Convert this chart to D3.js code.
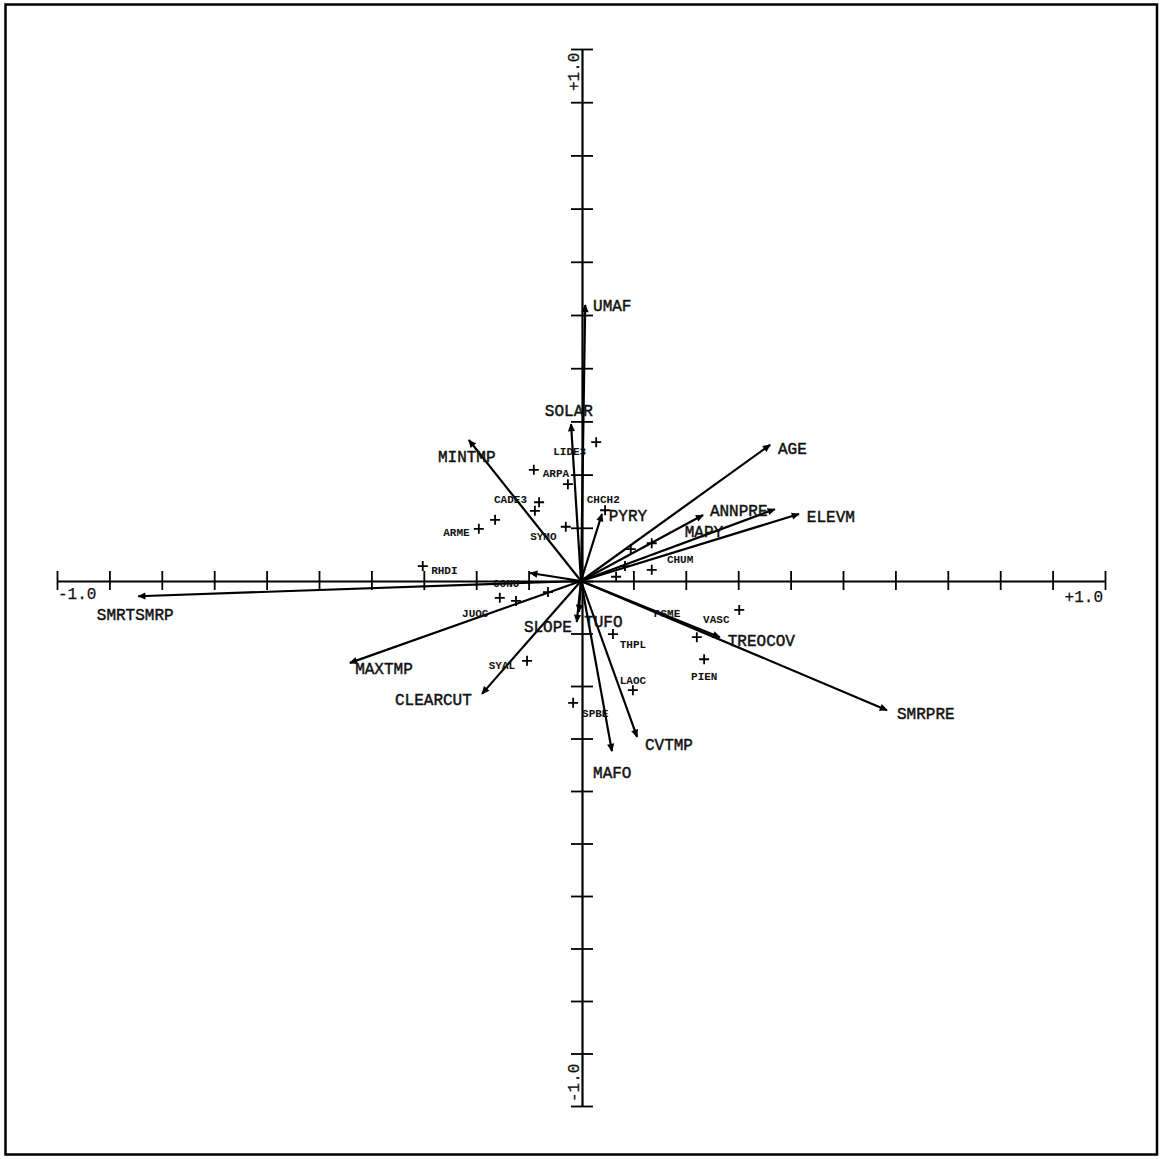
<!DOCTYPE html>
<html>
<head>
<meta charset="utf-8">
<script src="https://cdn.jsdelivr.net/npm/d3@7"></script>
<style>
  html, body { margin: 0; padding: 0; background: #fff; }
  svg { display: block; }
  .env { font-family: "Liberation Mono", "Courier New", monospace; font-size: 16px; fill: #111; stroke: #111; stroke-width: 0.45px; }
  .spp { font-family: "Liberation Mono", "Courier New", monospace; font-size: 11px; font-weight: bold; fill: #111; }
  .tick { font-family: "Liberation Mono", "Courier New", monospace; font-size: 16px; fill: #111; stroke: #111; stroke-width: 0.25px; }
</style>
</head>
<body>
<svg id="chart" width="1162" height="1159"></svg>
<script>
// Environmental variables (biplot arrows): name, axis-1 score, axis-2 score
const envNames = ["UMAF", "SOLAR", "MINTMP", "PYRY", "AGE", "ANNPRE", "MAPY", "ELEVM",
                  "TREOCOV", "SMRPRE", "CVTMP", "MAFO", "TUFO", "SLOPE", "CLEARCUT",
                  "MAXTMP", "SMRTSMRP", ""];
const envX = [0.008, -0.019, -0.214, 0.040, 0.361, 0.233, 0.370, 0.416,
              0.265, 0.584, 0.107, 0.059, -0.004, -0.008, -0.189,
              -0.441, -0.845, -0.097];
const envY = [0.519, 0.295, 0.265, 0.126, 0.256, 0.124, 0.135, 0.126,
              -0.107, -0.246, -0.297, -0.324, -0.059, -0.078, -0.215,
              -0.156, -0.029, 0.015];
// where each variable's name is written (axis units)
const envLabelX = [0.023, -0.069, -0.273, 0.053, 0.376, 0.246, 0.198, 0.431,
                   0.280, 0.603, 0.122, 0.023, 0.006, -0.109, -0.355,
                   -0.431, -0.924, 0];
const envLabelY = [0.508, 0.310, 0.224, 0.113, 0.239, 0.122, 0.082, 0.111,
                   -0.124, -0.263, -0.322, -0.375, -0.088, -0.097, -0.236,
                   -0.177, -0.074, 0];

// Species scores
const sppNames = ["LIDE3", "ARPA", "", "CADE3", "", "ARME", "", "SYMO", "CHCH2", "RHDI",
                  "JUOC", "CONU", "", "SYAL", "SPBE", "LAOC", "THPL", "PIEN", "VASC",
                  "PSME", "CHUM", "", "", "", ""];
const sppX = [0.029, -0.090, -0.025, -0.080, -0.088, -0.195, -0.164, -0.029, 0.046, -0.302,
              -0.155, -0.124, -0.063, -0.103, -0.015, 0.099, 0.061, 0.235, 0.302,
              0.221, 0.135, 0.095, 0.135, 0.067, 0.084];
const sppY = [0.261, 0.209, 0.182, 0.148, 0.132, 0.098, 0.115, 0.102, 0.133, 0.028,
              -0.032, -0.038, -0.021, -0.152, -0.232, -0.208, -0.101, -0.149, -0.055,
              -0.107, 0.021, 0.060, 0.071, 0.008, 0.028];
const sppLabelX = [-0.053, -0.073, 0, -0.166, 0, -0.263, 0, -0.097, 0.011, -0.286,
                   -0.227, -0.168, 0, -0.176, 0.002, 0.074, 0.074, 0.210, 0.233,
                   0.139, 0.164, 0, 0, 0, 0];
const sppLabelY = [0.237, 0.195, 0, 0.147, 0, 0.085, 0, 0.077, 0.147, 0.013,
                   -0.069, -0.011, 0, -0.168, -0.259, -0.196, -0.128, -0.189, -0.080,
                   -0.069, 0.034, 0, 0, 0, 0];

// Axis ticks every 0.1 from -1 to +1
const tickValues = d3.range(-10, 11).map(i => i / 10);
const axisEndLabels = ["-1.0", "+1.0"];

const svg = d3.select("#chart");

const x = d3.scaleLinear().domain([-1, 0, 1]).range([57, 581, 1105]);
const y = d3.scaleLinear().domain([-1, 0, 1]).range([1106, 581, 49]);

// frame
svg.append("rect")
  .attr("x", 5.5).attr("y", 4.5).attr("width", 1151.5).attr("height", 1150)
  .attr("fill", "none").attr("stroke", "#000").attr("stroke-width", 2.5);

// arrowhead marker
svg.append("defs").append("marker")
  .attr("id", "head")
  .attr("viewBox", "0 -5 10 10")
  .attr("refX", 9).attr("refY", 0)
  .attr("markerUnits", "userSpaceOnUse")
  .attr("markerWidth", 10).attr("markerHeight", 8)
  .attr("orient", "auto")
  .append("path").attr("d", "M0,-4.5L10,0L0,4.5Z").attr("fill", "#000");

// horizontal axis
const hAxis = svg.append("g").attr("transform", `translate(0,${y(0)})`)
  .call(d3.axisBottom(x).tickValues(tickValues).tickSizeInner(10).tickSizeOuter(0).tickFormat(""));
hAxis.select(".domain").attr("stroke-width", 2.2);
hAxis.selectAll(".tick line").attr("y1", -10).attr("y2", 9).attr("stroke-width", 1.8);

// vertical axis
const vAxis = svg.append("g").attr("transform", `translate(${x(0) + 1},0)`)
  .call(d3.axisLeft(y).tickValues(tickValues).tickSizeInner(10).tickSizeOuter(0).tickFormat(""));
vAxis.select(".domain").attr("stroke-width", 2.2);
vAxis.selectAll(".tick line").attr("x1", -11).attr("x2", 11).attr("stroke-width", 1.8);

// end labels of the axes
svg.append("text").attr("class", "tick").attr("x", x(-1) + 1).attr("y", y(0) + 18).text(axisEndLabels[0]);
svg.append("text").attr("class", "tick").attr("x", x(1) - 2).attr("y", y(0) + 21)
  .attr("text-anchor", "end").text(axisEndLabels[1]);
svg.append("text").attr("class", "tick")
  .attr("transform", `translate(${x(0) - 2},${y(1) + 42}) rotate(-90)`).text(axisEndLabels[1]);
svg.append("text").attr("class", "tick")
  .attr("transform", `translate(${x(0) - 2},${y(-1) - 4}) rotate(-90)`).text(axisEndLabels[0]);

// environmental arrows
const env = envNames.map((n, i) => ({ n, x: envX[i], y: envY[i], lx: envLabelX[i], ly: envLabelY[i] }));
svg.append("g").selectAll("line").data(env).join("line")
  .attr("x1", x(0)).attr("y1", y(0))
  .attr("x2", d => x(d.x)).attr("y2", d => y(d.y))
  .attr("stroke", "#000").attr("stroke-width", 2.2)
  .attr("marker-end", "url(#head)");

svg.append("g").selectAll("text").data(env.filter(d => d.n)).join("text")
  .attr("class", "env")
  .attr("x", d => x(d.lx)).attr("y", d => y(d.ly))
  .text(d => d.n);

// species points and names
const spp = sppNames.map((n, i) => ({ n, x: sppX[i], y: sppY[i], lx: sppLabelX[i], ly: sppLabelY[i] }));
svg.append("g").selectAll("path").data(spp).join("path")
  .attr("d", d => {
    const cx = x(d.x), cy = y(d.y), r = 5;
    return `M${cx - r},${cy}H${cx + r}M${cx},${cy - r}V${cy + r}`;
  })
  .attr("stroke", "#000").attr("stroke-width", 1.8).attr("fill", "none");

svg.append("g").selectAll("text").data(spp.filter(d => d.n)).join("text")
  .attr("class", "spp")
  .attr("x", d => x(d.lx)).attr("y", d => y(d.ly))
  .text(d => d.n);
</script>
</body>
</html>
